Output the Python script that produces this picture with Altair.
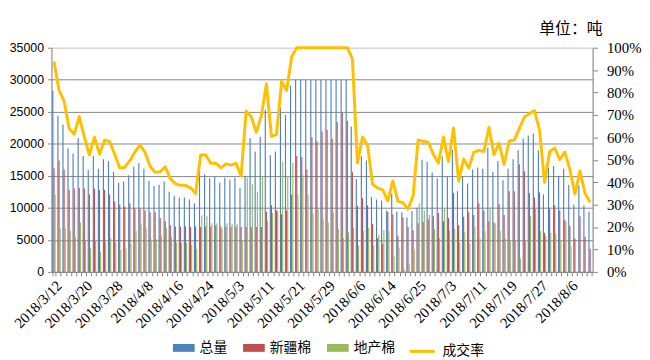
import json
import altair as alt
import pandas as pd

dates = [
    "2018/3/12","2018/3/13","2018/3/14","2018/3/15","2018/3/16","2018/3/19","2018/3/20","2018/3/21","2018/3/22","2018/3/23",
    "2018/3/26","2018/3/27","2018/3/28","2018/3/29","2018/3/30",
    "2018/4/2","2018/4/3","2018/4/4","2018/4/8","2018/4/9","2018/4/10","2018/4/11","2018/4/12","2018/4/13","2018/4/16",
    "2018/4/17","2018/4/18","2018/4/19","2018/4/20","2018/4/23","2018/4/24","2018/4/25","2018/4/26","2018/4/27","2018/4/28",
    "2018/5/2","2018/5/3","2018/5/4","2018/5/7","2018/5/8","2018/5/9","2018/5/10","2018/5/11","2018/5/14","2018/5/15",
    "2018/5/16","2018/5/17","2018/5/18","2018/5/21","2018/5/22","2018/5/23","2018/5/24","2018/5/25","2018/5/28","2018/5/29",
    "2018/5/30","2018/5/31",
    "2018/6/1","2018/6/4","2018/6/5","2018/6/6","2018/6/7","2018/6/8","2018/6/11","2018/6/12","2018/6/13","2018/6/14",
    "2018/6/15","2018/6/19","2018/6/20","2018/6/21","2018/6/22","2018/6/25","2018/6/26","2018/6/27","2018/6/28","2018/6/29",
    "2018/7/2","2018/7/3","2018/7/4","2018/7/5","2018/7/6","2018/7/9","2018/7/10","2018/7/11","2018/7/12","2018/7/13",
    "2018/7/16","2018/7/17","2018/7/18","2018/7/19","2018/7/20","2018/7/23","2018/7/24","2018/7/25","2018/7/26","2018/7/27",
    "2018/7/30","2018/7/31",
    "2018/8/1","2018/8/2","2018/8/3","2018/8/6","2018/8/7","2018/8/8","2018/8/9","2018/8/10",
]

label_dates = ["2018/3/12","2018/3/20","2018/3/28","2018/4/8","2018/4/16","2018/4/24","2018/5/3","2018/5/11",
               "2018/5/21","2018/5/29","2018/6/6","2018/6/14","2018/6/25","2018/7/3","2018/7/11","2018/7/19",
               "2018/7/27","2018/8/6"]

total = [28300,24400,23000,19300,18500,20900,18100,15900,18100,16100,
         17600,17300,15600,13900,14100,15100,16400,17000,16100,14200,
         13400,13600,14100,12500,11900,11600,11600,11300,10700,15800,
         15200,14600,14800,13900,14700,14400,14700,13100,15000,20900,
         18800,21100,25300,18200,18800,25700,24500,29100,30000,30000,
         30000,30000,30000,30000,30000,30000,30000,30000,30000,22700,
         14500,18100,17400,11700,11300,11100,9600,12200,9400,9300,
         8500,9500,10000,17500,17200,15500,14600,18000,14900,19100,
         12600,14900,13800,16000,16300,16100,19400,15600,17300,14300,
         16100,17600,19000,20800,21300,21600,19000,12100,16300,16500,
         15000,16100,13600,10500,13500,10400,9400]

xinjiang = [16200,17400,16000,12800,13000,13100,13000,12100,13000,12800,
            12800,12100,11000,10500,10200,10700,9900,9900,9600,9300,
            9300,8400,7900,7300,7100,7100,7100,7000,7100,7000,
            7100,7100,7300,7100,7100,7000,7000,7000,7000,7000,
            7000,7000,9400,10400,9600,9000,9600,12100,18100,17900,
            16000,21000,20400,21900,22200,20800,23400,24800,23600,15600,
            10300,11500,10400,7500,5300,4400,9400,9000,5600,8500,
            7000,6500,7600,7800,8200,8700,9200,7900,8400,12300,
            7300,8600,9300,8900,10700,9600,7900,7700,10600,8900,
            12600,12600,16800,15700,12300,11600,12400,6100,9900,10400,
            9600,8100,7200,5200,8700,5500,3600]

local = [12100,6800,6800,6400,5400,7700,5000,3700,5000,3100,
         4600,5300,4600,3400,3700,4400,6400,7500,6800,5100,
         5100,5700,6800,5400,4600,4500,4500,4200,3600,8800,
         8700,7600,7600,6700,7600,7500,7500,5000,14700,13700,
         12500,15000,7900,9200,9500,17200,15000,17000,12100,15100,
         12100,9100,9700,8200,7700,9300,6700,5300,6200,6900,
         4100,6400,6900,4100,5800,6500,6400,2400,3800,500,
         1300,3500,10700,9600,8900,6700,5300,9800,6400,6700,
         4500,6200,4400,7000,5300,6400,10100,7600,6400,5300,
         4700,4800,2100,4900,8700,9800,6400,5600,6100,6000,
         5000,7800,4000,0,0,0,0]

rate = [93.9,81.0,76.3,63.9,61.4,69.3,60.2,52.2,60.1,52.5,
        58.8,58.2,52.5,46.3,46.7,49.6,53.5,56.5,53.4,47.1,
        44.4,44.7,46.9,41.5,39.4,38.6,38.6,37.5,35.0,52.2,
        52.1,48.5,48.5,46.4,48.2,47.6,48.4,42.8,71.8,69.2,
        62.3,69.6,83.9,60.4,61.3,85.0,80.9,96.0,100,100,
        100,100,100,100,100,100,100,100,100,95.0,
        48.6,60.2,56.5,39.0,37.4,36.6,31.7,40.6,31.6,30.8,
        28.1,33.9,58.8,58.3,57.8,52.5,48.5,60.2,49.2,64.2,
        40.5,50.3,46.3,53.3,54.2,53.7,64.5,52.3,57.4,47.9,
        58.4,58.8,63.9,69.1,70.5,72.0,63.2,39.9,53.7,55.2,
        50.1,53.4,45.7,34.7,45.0,35.0,31.1]

series_names = ["总量", "新疆棉", "地产棉"]
series_colors = ["#4F81BD", "#C0504D", "#9BBB59"]
line_name = "成交率"
line_color = "#FFC000"

rows = []
for i, d in enumerate(dates):
    for name, vals in zip(series_names, [total, xinjiang, local]):
        rows.append({"date": d, "series": name, "value": vals[i]})
bars_df = pd.DataFrame(rows)
line_df = pd.DataFrame({"date": dates, "rate": rate, "lab": line_name})

GRID = "#868686"
label_list = json.dumps(label_dates, ensure_ascii=False)

x_enc = alt.X(
    "date:N", sort=dates, title=None,
    scale=alt.Scale(type="band", paddingInner=0.33, paddingOuter=0.165),
    axis=alt.Axis(
        labelExpr=f"indexof({label_list}, datum.value) >= 0 ? datum.value : ''",
        labelAngle=-45, labelOverlap=False, labelFont="Liberation Serif", labelFontSize=15,
        labelColor="#000000", tickBand="extent", tickSize=4, tickColor=GRID,
        domainColor=GRID, labelPadding=2, grid=False,
    ),
)

bars = alt.Chart(bars_df).mark_bar().encode(
    x=x_enc,
    xOffset=alt.XOffset("series:N", sort=series_names, scale=alt.Scale(paddingInner=0, paddingOuter=0)),
    y=alt.Y(
        "value:Q", title=None,
        scale=alt.Scale(domain=[0, 35000]),
        axis=alt.Axis(
            values=list(range(0, 35001, 5000)), format="d", orient="left",
            labelFont="Liberation Sans", labelFontSize=12.5, labelColor="#000000",
            tickSize=4, tickColor=GRID, domainColor=GRID, labelPadding=4,
            gridColor={"condition": {"test": "datum.value == 35000", "value": "#D0D0D0"}, "value": GRID},
            gridWidth=1,
        ),
    ),
    color=alt.Color(
        "series:N", sort=series_names,
        scale=alt.Scale(domain=series_names, range=series_colors),
        legend=alt.Legend(
            title=None, orient="none", legendX=123, legendY=293, direction="horizontal",
            symbolType="M-1,-0.36H1V0.36H-1Z", symbolSize=484, symbolStrokeWidth=0,
            labelFont="Noto Sans CJK SC", labelFontSize=14, labelColor="#000000",
            labelOffset=5, columnPadding=16,
        ),
    ),
)

line = alt.Chart(line_df).mark_line(strokeWidth=3, strokeJoin="round").encode(
    x=x_enc,
    y=alt.Y(
        "rate:Q", title=None,
        scale=alt.Scale(domain=[0, 100]),
        axis=alt.Axis(
            values=list(range(0, 101, 10)), orient="right", labelExpr="datum.value + '%'",
            labelFont="Liberation Serif", labelFontSize=15, labelColor="#000000",
            tickSize=5, tickColor=GRID, domainColor=GRID, labelPadding=9, grid=False,
        ),
    ),
    stroke=alt.Stroke(
        "lab:N",
        scale=alt.Scale(domain=[line_name], range=[line_color]),
        legend=alt.Legend(
            title=None, orient="none", legendX=361, legendY=293,
            symbolType="stroke", symbolSize=650, symbolStrokeWidth=3,
            labelFont="Noto Sans CJK SC", labelFontSize=14, labelColor="#000000",
            labelOffset=6,
        ),
    ),
)

chart = alt.layer(bars, line).resolve_scale(y="independent").properties(
    width=548, height=227,
    autosize=alt.AutoSizeParams(type="none"),
    padding={"left": 44, "top": 38, "right": 50, "bottom": 86},
    title=alt.TitleParams(
        "单位：吨", anchor="end", orient="top", frame="group", font="Noto Sans CJK SC",
        fontSize=16, fontWeight="normal", color="#000000", offset=4, dx=10,
    ),
).configure_view(stroke=None).configure(background="#FFFFFF")

chart.save("out.html", embed_options={"renderer": "svg", "actions": False})
